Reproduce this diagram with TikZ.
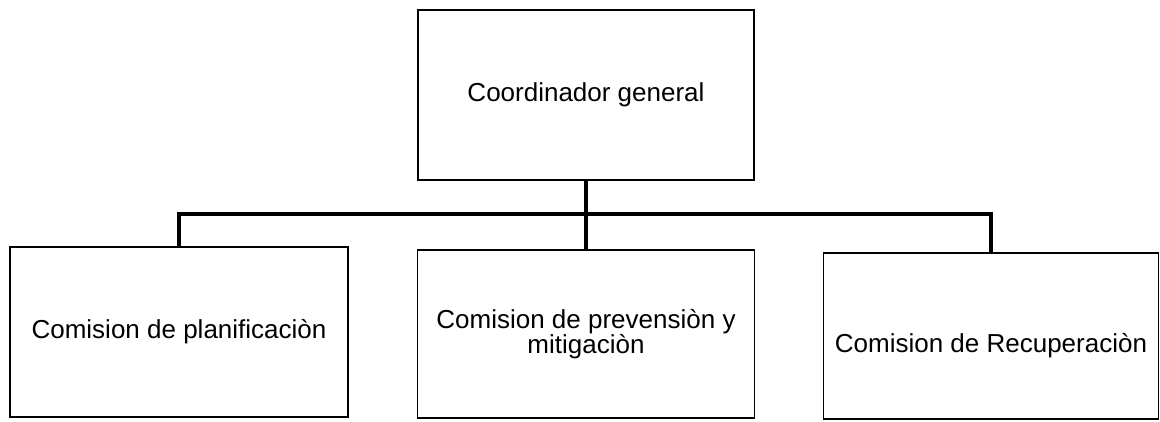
\documentclass[tikz,border=0pt]{standalone}
\usepackage{fontspec}
\setmainfont{Liberation Sans}
\begin{document}
\begin{tikzpicture}[x=1pt,y=-1pt,
  box/.style={draw=black,line width=1.6pt,inner sep=0pt,align=center,
    font=\fontsize{26}{25}\selectfont},
  conn/.style={draw=black,line width=3.6pt,line cap=rect}]
\useasboundingbox (0,0) rectangle (1160,421);
\node[box,minimum width=336pt,minimum height=170pt] (top) at (586,95) {Coordinador general};
\node[box,minimum width=338pt,minimum height=170pt] (c1) at (179,332) {Comision de planificaciòn};
\node[box,minimum width=337pt,minimum height=168pt] (c2) at (586,334) {Comision de prevensiòn y\\mitigaciòn};
\node[box,minimum width=335pt,minimum height=166pt,text height=38pt] (c3) at (991,336) {Comision de Recuperaciòn};
\coordinate (bus) at (586,214);
\draw[conn] (top.south) -- (c2.north);
\draw[conn] (c1.north) |- (bus) -| (c3.north);
\end{tikzpicture}
\end{document}
